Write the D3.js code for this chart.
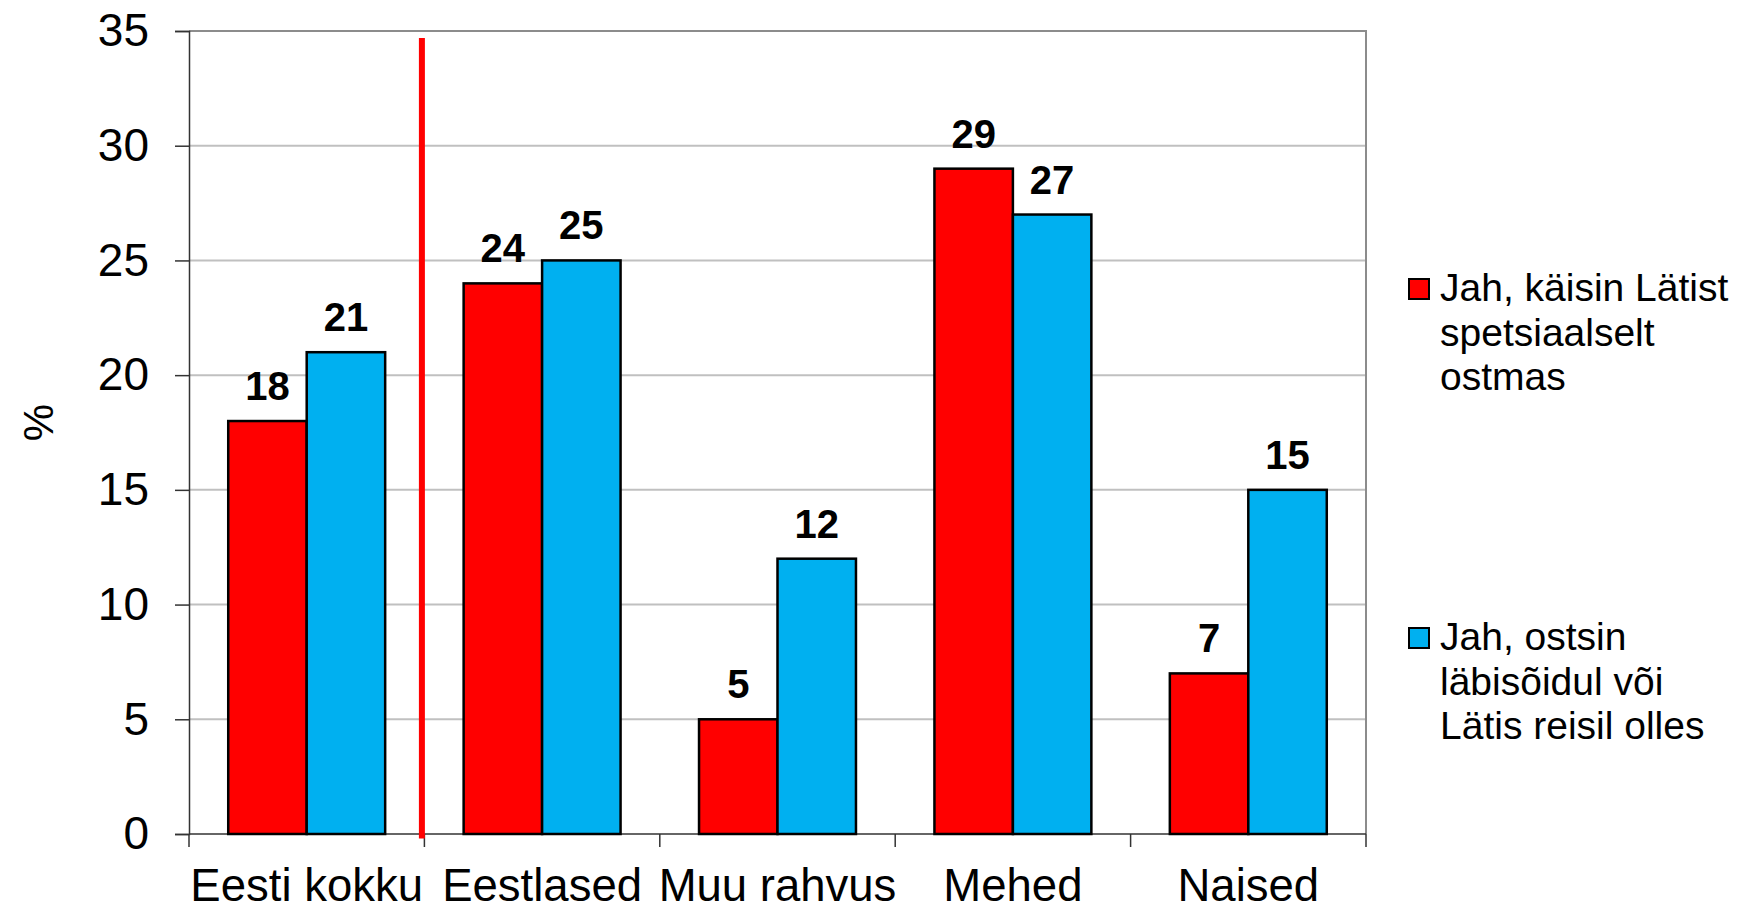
<!DOCTYPE html>
<html>
<head>
<meta charset="utf-8">
<script src="https://cdn.jsdelivr.net/npm/d3@7"></script>
<style>
    body { margin: 0; background: #fff; }
    svg { display: block; font-family: "Liberation Sans", Arial, sans-serif; }
</style>
</head>
<body>
<div id="chart"></div>
<script>

// Data
var categories = ["Eesti kokku", "Eestlased", "Muu rahvus", "Mehed", "Naised"];
var seriesKeys = ["spets", "labi"];
var spetsValues = [18, 24, 5, 29, 7];
var labiValues = [21, 25, 12, 27, 15];
var yTicks = [0, 5, 10, 15, 20, 25, 30, 35];
var legendLabels = [
    ["Jah, käisin Lätist", "spetsiaalselt", "ostmas"],
    ["Jah, ostsin", "läbisõidul või", "Lätis reisil olles"]
];
var colors = { spets: "#ff0000", labi: "#00b0f0" };

BarVis = function(_parentElement) {
    this.parentElement = _parentElement;
    this.initVis();
};

/* INITIALIZE VISUALIZATION */
BarVis.prototype.initVis = function() {
    var vis = this;

    vis.margin = { top: 31, right: 374, bottom: 74, left: 189 };
    vis.width = 1740 - vis.margin.left - vis.margin.right;
    vis.height = 908 - vis.margin.top - vis.margin.bottom;

    vis.svg = d3.select("#" + vis.parentElement).append("svg")
        .attr("width", 1740)
        .attr("height", 908)
        .append("g")
        .attr("transform", "translate(" + vis.margin.left + "," + vis.margin.top + ")");

    // Scales
    vis.x = d3.scaleBand()
        .domain(categories)
        .range([0, vis.width])
        .padding(0);

    var bw = vis.x.bandwidth();
    vis.x1 = d3.scaleBand()
        .domain(seriesKeys)
        .range([bw / 6, bw * 5 / 6]);

    vis.y = d3.scaleLinear()
        .domain([0, 35])
        .range([vis.height, 0]);

    vis.displayData = categories.map(function(c, i) {
        return { cat: c, spets: spetsValues[i], labi: labiValues[i] };
    });

    vis.updateVis();
};

BarVis.prototype.updateVis = function() {
    var vis = this;

    // Gridlines
    vis.svg.append("g").selectAll("line")
        .data(yTicks.filter(function(d) { return d > 0 && d < 35; }))
        .enter().append("line")
        .attr("x1", 0)
        .attr("x2", vis.width)
        .attr("y1", function(d) { return vis.y(d); })
        .attr("y2", function(d) { return vis.y(d); })
        .attr("stroke", "#c0c0c0")
        .attr("stroke-width", 2);

    // Plot area border (top + right)
    vis.svg.append("path")
        .attr("d", "M0," + vis.y(35) + "H" + vis.width + "V" + vis.y(0))
        .attr("fill", "none")
        .attr("stroke", "#8c8c8c")
        .attr("stroke-width", 2);

    // Y axis
    vis.yAxis = d3.axisLeft(vis.y)
        .tickValues(yTicks)
        .tickSize(14)
        .tickPadding(26);

    var yg = vis.svg.append("g")
        .attr("class", "y-axis")
        .call(vis.yAxis);
    yg.select(".domain").attr("stroke", "#333").attr("stroke-width", 1.5);
    yg.selectAll(".tick line").attr("stroke", "#333").attr("stroke-width", 1.5);
    yg.selectAll(".tick text")
        .attr("font-size", 46)
        .attr("fill", "#000")
        .attr("font-family", "Liberation Sans, Arial, sans-serif");

    // X axis: ticks at category boundaries
    var bounds = categories.map(function(c) { return vis.x(c); }).concat([vis.width]);
    vis.svg.append("g").selectAll("line")
        .data(bounds)
        .enter().append("line")
        .attr("x1", function(d) { return d; })
        .attr("x2", function(d) { return d; })
        .attr("y1", vis.height)
        .attr("y2", vis.height + 13)
        .attr("stroke", "#333")
        .attr("stroke-width", 1.5);

    vis.svg.append("line")
        .attr("x1", 0)
        .attr("x2", vis.width)
        .attr("y1", vis.height)
        .attr("y2", vis.height)
        .attr("stroke", "#333")
        .attr("stroke-width", 1.5);

    vis.svg.append("g").selectAll("text")
        .data(categories)
        .enter().append("text")
        .attr("x", function(d) { return vis.x(d) + vis.x.bandwidth() / 2; })
        .attr("y", vis.height + 67)
        .attr("text-anchor", "middle")
        .attr("font-size", 45.5)
        .text(function(d) { return d; });

    // Bars
    var groups = vis.svg.append("g").selectAll("g")
        .data(vis.displayData)
        .enter().append("g")
        .attr("transform", function(d) { return "translate(" + vis.x(d.cat) + ",0)"; });

    groups.selectAll("rect")
        .data(function(d) { return seriesKeys.map(function(k) { return { key: k, value: d[k] }; }); })
        .enter().append("rect")
        .attr("x", function(d) { return vis.x1(d.key); })
        .attr("width", vis.x1.bandwidth())
        .attr("y", function(d) { return vis.y(d.value); })
        .attr("height", function(d) { return vis.height - vis.y(d.value); })
        .attr("fill", function(d) { return colors[d.key]; })
        .attr("stroke", "#000")
        .attr("stroke-width", 2.5);

    groups.selectAll("text")
        .data(function(d) { return seriesKeys.map(function(k) { return { key: k, value: d[k] }; }); })
        .enter().append("text")
        .attr("x", function(d) { return vis.x1(d.key) + vis.x1.bandwidth() / 2; })
        .attr("y", function(d) { return vis.y(d.value) - 21; })
        .attr("text-anchor", "middle")
        .attr("font-size", 40)
        .attr("font-weight", "bold")
        .text(function(d) { return d.value; });

    // Red divider line between total and subgroups
    var divX = vis.x(categories[1]) - 2.5;
    vis.svg.append("line")
        .attr("x1", divX)
        .attr("x2", divX)
        .attr("y1", vis.y(34.7))
        .attr("y2", vis.y(-0.2))
        .attr("stroke", "#ff0000")
        .attr("stroke-width", 6);

    // Y axis title
    vis.svg.append("text")
        .attr("transform", "translate(" + (-136) + "," + (vis.height / 2 - 10) + ") rotate(-90)")
        .attr("text-anchor", "middle")
        .attr("font-size", 42)
        .text("%");

    // Legend
    var legendX = vis.width + 43;
    var legendY = [301, 650];
    var legend = vis.svg.append("g").selectAll("g")
        .data(seriesKeys)
        .enter().append("g")
        .attr("transform", function(d, i) { return "translate(" + legendX + "," + (legendY[i] - vis.margin.top) + ")"; });

    legend.append("rect")
        .attr("x", 0)
        .attr("y", -22)
        .attr("width", 20)
        .attr("height", 20)
        .attr("fill", function(d) { return colors[d]; })
        .attr("stroke", "#000")
        .attr("stroke-width", 2);

    legend.each(function(d, i) {
        d3.select(this).selectAll("text")
            .data(legendLabels[i])
            .enter().append("text")
            .attr("x", 31)
            .attr("y", function(t, j) { return j * 44.5; })
            .attr("font-size", 39)
            .text(function(t) { return t; });
    });
};

var barVis = new BarVis("chart");
</script>
</body>
</html>
